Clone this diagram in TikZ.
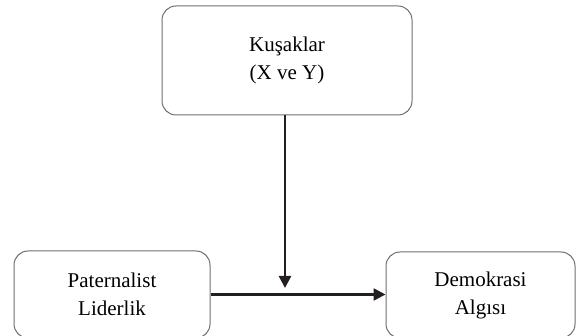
\documentclass[tikz,border=0pt]{standalone}
\usepackage{fontspec}
\setmainfont{Liberation Serif}
\usetikzlibrary{arrows.meta}
\definecolor{boxline}{HTML}{6E6E6E}
\definecolor{arrowline}{HTML}{231F20}

\begin{document}
\begin{tikzpicture}[x=1pt,y=-1pt,
  box/.style={draw=boxline,line width=1pt,rounded corners=14pt,align=center,
    inner sep=0pt,font=\fontsize{21}{28}\selectfont},
  link/.style={draw=arrowline,line width=2.5pt,-{Triangle[length=12pt,width=12pt]}}]
\useasboundingbox (0,0) rectangle (579,336);

% nodes
\node (k) [box,minimum width=250pt,minimum height=109pt] at (287,60.5) {Kuşaklar\\(X ve Y)};
\node (p) [box,minimum width=196pt,minimum height=87pt] at (112,294.5) {Paternalist\\Liderlik};
\node (d) [box,minimum width=189pt,minimum height=86pt] at (480.5,295) {Demokrasi\\Algısı};
\coordinate (m) at (285,288);

% arrows
\draw[link] (p.east) -- (p.east -| d.west);
\draw[link] (k.south -| m) -- (m);
\end{tikzpicture}
\end{document}
